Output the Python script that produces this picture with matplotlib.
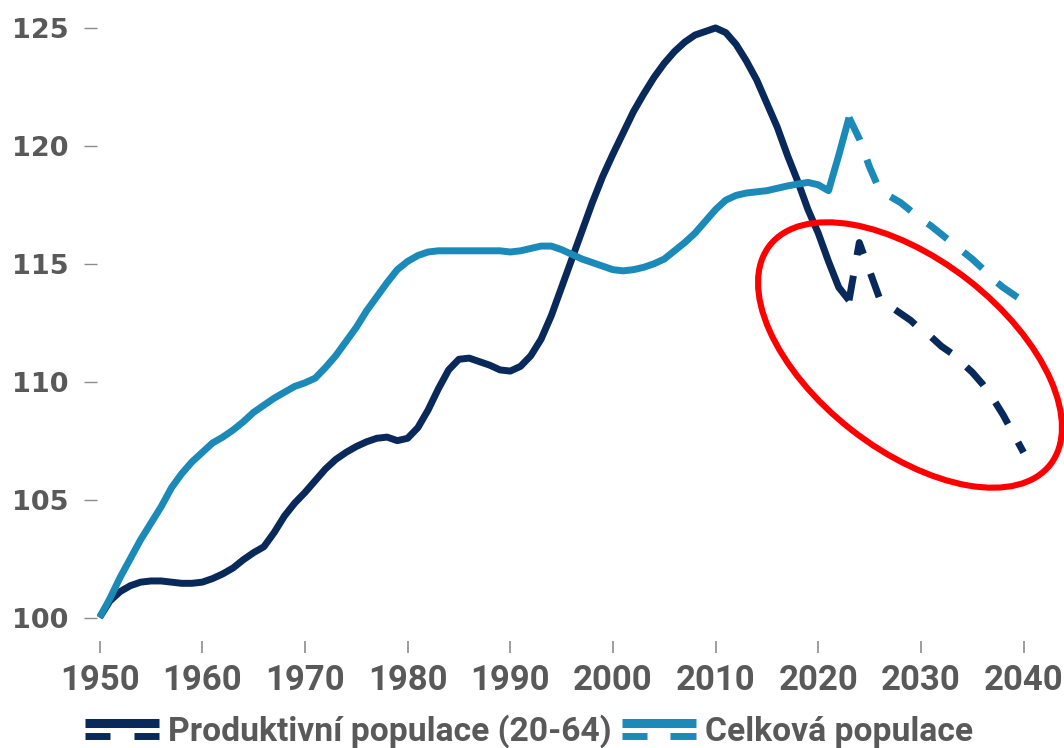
import numpy as np
import matplotlib
matplotlib.use("Agg")
import matplotlib.pyplot as plt
from matplotlib.lines import Line2D
from matplotlib.patches import Ellipse
from matplotlib.legend_handler import HandlerBase

# index 1950 = 100
years = list(range(1950, 2024))
prod_hist = [
    100.0, 100.7, 101.1, 101.35, 101.5, 101.55, 101.55, 101.5, 101.45, 101.45,   # 1950-59
    101.5, 101.65, 101.85, 102.1, 102.45, 102.75, 103.0, 103.6, 104.3, 104.85,   # 1960-69
    105.3, 105.8, 106.3, 106.7, 107.0, 107.25, 107.45, 107.6, 107.65, 107.5,     # 1970-79
    107.6, 108.05, 108.8, 109.7, 110.5, 110.95, 111.0, 110.85, 110.7, 110.5,     # 1980-89
    110.45, 110.65, 111.1, 111.8, 112.8, 114.0, 115.2, 116.4, 117.6, 118.7,      # 1990-99
    119.65, 120.55, 121.45, 122.2, 122.9, 123.5, 124.0, 124.4, 124.7, 124.85,    # 2000-09
    125.0, 124.8, 124.3, 123.6, 122.8, 121.8, 120.8, 119.6, 118.5, 117.3,        # 2010-19
    116.3, 115.1, 114.0, 113.45,                                                  # 2020-23
]
total_hist = [
    100.0, 100.8, 101.7, 102.5, 103.3, 104.0, 104.7, 105.5, 106.1, 106.6,        # 1950-59
    107.0, 107.4, 107.65, 107.95, 108.3, 108.7, 109.0, 109.3, 109.55, 109.8,     # 1960-69
    109.95, 110.15, 110.6, 111.1, 111.7, 112.3, 113.0, 113.6, 114.2, 114.75,     # 1970-79
    115.1, 115.35, 115.5, 115.55, 115.55, 115.55, 115.55, 115.55, 115.55, 115.55,  # 1980-89
    115.5, 115.55, 115.65, 115.75, 115.75, 115.6, 115.4, 115.2, 115.05, 114.9,   # 1990-99
    114.75, 114.7, 114.75, 114.85, 115.0, 115.2, 115.55, 115.9, 116.3, 116.8,    # 2000-09
    117.3, 117.7, 117.9, 118.0, 118.05, 118.1, 118.2, 118.3, 118.38, 118.45,     # 2010-19
    118.35, 118.1, 119.6, 121.2,                                                  # 2020-23
]

# projection
proj_years = list(range(2023, 2041))
prod_proj = [113.45, 115.9, 114.7, 113.5, 113.2, 112.9, 112.6, 112.2, 111.9,
             111.5, 111.2, 110.8, 110.4, 109.9, 109.3, 108.6, 107.8, 107.0]
total_proj = [121.2, 120.3, 119.1, 118.1, 117.85, 117.6, 117.25, 116.9, 116.6,
              116.25, 115.9, 115.55, 115.2, 114.8, 114.35, 114.0, 113.7, 113.4]

xticks = list(range(1950, 2041, 10))
yticks = [100, 105, 110, 115, 120, 125]
labels = ["Produktivní populace (20-64)", "Celková populace"]

NAVY = "#08295A"
BLUE = "#1B8AB8"
GREY = "#595959"
LW = 5.0
NARROW = ["Roboto", "DejaVu Sans"]


class SolidOverDashed(HandlerBase):
    """legend key: solid bar on top, two dashes below"""
    def create_artists(self, legend, orig_handle, xdescent, ydescent,
                       width, height, fontsize, trans):
        c = orig_handle.get_color()
        x0 = -xdescent
        yc = (height - ydescent) / 2
        top = Line2D([x0, x0 + width], [yc + 4.7] * 2, color=c, lw=6.5,
                     solid_capstyle="butt", transform=trans)
        d1 = Line2D([x0, x0 + 0.34 * width], [yc - 4.7] * 2, color=c, lw=5,
                    solid_capstyle="butt", transform=trans)
        d2 = Line2D([x0 + 0.66 * width, x0 + width], [yc - 4.7] * 2, color=c, lw=5,
                    solid_capstyle="butt", transform=trans)
        return [top, d1, d2]


fig = plt.figure(figsize=(10.64, 7.48), dpi=100)
ax = fig.add_axes([0.0907, 0.1437, 0.8877, 0.8429])

kw = dict(lw=LW, solid_capstyle="butt", solid_joinstyle="round", dash_capstyle="butt")
l_prod, = ax.plot(years, prod_hist, color=NAVY, **kw)
l_tot, = ax.plot(years, total_hist, color=BLUE, **kw)
ax.plot(proj_years, prod_proj, color=NAVY, linestyle=(0, (3.6, 3.0)), **kw)
ax.plot(proj_years, total_proj, color=BLUE, linestyle=(0, (3.6, 3.0)), **kw)

ax.set_xlim(1949.7, 2041.7)
ax.set_ylim(99.025, 125.76)
ax.set_xticks(xticks)
ax.set_yticks(yticks)
for s in ax.spines.values():
    s.set_visible(False)

ax.tick_params(axis="y", length=9.4, width=1.0, color="#8c8c8c", pad=11,
               labelcolor=GREY)
ax.tick_params(axis="x", length=8.6, width=1.2, color="#8c8c8c", pad=8,
               labelcolor=GREY)
for t in ax.get_yticklabels():
    t.set_fontfamily("DejaVu Sans")
    t.set_fontweight("bold")
    t.set_fontsize(19.5)
for t in ax.get_xticklabels():
    t.set_fontfamily(NARROW)
    t.set_fontweight("bold")
    t.set_fontsize(25)

# highlight around the projected drop
ring = Ellipse((9.10, 3.93), 3.56, 1.90, angle=-38, transform=fig.dpi_scale_trans,
               fill=False, edgecolor="#FF0000", lw=4.4, zorder=5, clip_on=False)
fig.add_artist(ring)

fig.legend([l_prod, l_tot], labels, loc="center", bbox_to_anchor=(0.497, 0.022),
           ncol=2, frameon=False, handlelength=2.2, handleheight=0.7,
           handletextpad=0.27, columnspacing=0.3,
           handler_map={Line2D: SolidOverDashed()},
           prop={"family": NARROW, "weight": "bold", "size": 24.2},
           labelcolor=GREY)

fig.savefig("out.png", dpi=100)
